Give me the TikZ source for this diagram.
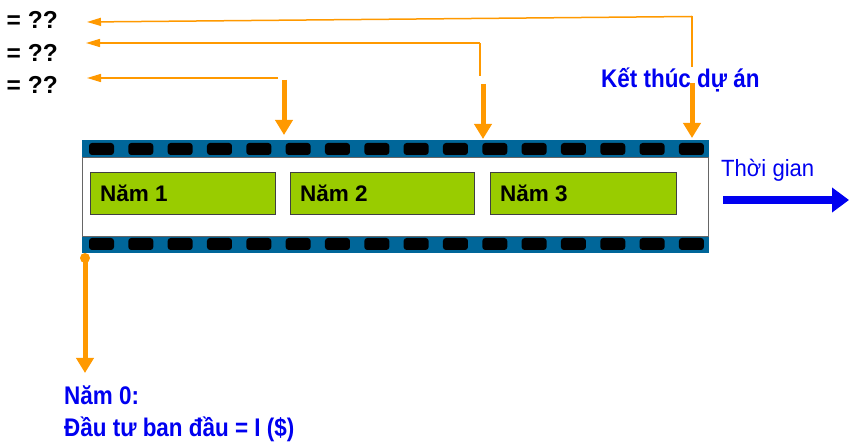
\documentclass[tikz,border=0pt]{standalone}
\usepackage{fontspec}
\setmainfont{Liberation Sans}
\newfontfamily\condfont[FakeStretch=0.88]{Liberation Sans}
\newfontfamily\timefont[FakeStretch=0.94]{Liberation Sans}
\usetikzlibrary{arrows.meta}
\definecolor{orng}{HTML}{FF9900}
\definecolor{stripblue}{HTML}{006699}
\definecolor{yeargreen}{HTML}{99CC00}
\definecolor{txtblue}{HTML}{0000F0}
\tikzset{
  lbl/.style={inner sep=0pt, anchor=base west, font=\fontsize{22.5}{27}\selectfont\bfseries},
  bluelbl/.style={inner sep=0pt, anchor=base west, text=txtblue, font=\condfont\fontsize{25.5}{30}\selectfont\bfseries},
  qlbl/.style={inner sep=0pt, anchor=base west, font=\fontsize{24.5}{28}\selectfont\bfseries},
  yearbox/.style={draw=black!75, line width=0.8pt, fill=yeargreen, inner sep=0pt, anchor=north west, minimum height=42pt},
  hole/.style={fill=black, rounded corners=3pt},
  thinarrow/.style={draw=orng, line width=1.5pt, -{Triangle[length=14pt,width=8pt]}},
  thinline/.style={draw=orng, line width=1.5pt},
  thickarrow/.style={draw=orng, line width=5pt, -{Triangle[length=15pt,width=17pt]}},
  timearrow/.style={draw=txtblue, line width=8pt, -{Triangle[length=17pt,width=24pt]}}
}
\begin{document}
\begin{tikzpicture}[x=1pt,y=-1pt]
\useasboundingbox (0,0) rectangle (849,443);
% film strip
\fill[stripblue] (82,140) rectangle (709,157);
\fill[stripblue] (82,236) rectangle (709,253);
\draw[draw=black!60, line width=0.8pt, fill=white] (82,157) rectangle (708,236);
\foreach \i in {0,...,15} {
  \fill[hole] ({89+39.33*\i},143) rectangle ({114+39.33*\i},155);
  \fill[hole] ({89+39.33*\i},238) rectangle ({114+39.33*\i},250);
}
% year boxes
\node[yearbox, minimum width=185pt] (y1) at (90,172) {};
\node[yearbox, minimum width=184pt] (y2) at (290,172) {};
\node[yearbox, minimum width=186pt] (y3) at (490,172) {};
\node[lbl] (t1) at (100,202) {Năm 1};
\node[lbl] (t2) at (300,202) {Năm 2};
\node[lbl] (t3) at (500,202) {Năm 3};
% question labels
\node[qlbl] (q1) at (6.5,29) {= ??};
\node[qlbl] (q2) at (6.5,62) {= ??};
\node[qlbl] (q3) at (6.5,94) {= ??};
% coordinates
\coordinate (r1top) at (692,16.5);
\coordinate (r1end) at (87,22);
\coordinate (r1low) at (692,67);
\coordinate (r1a) at (692,83);
\coordinate (r1b) at (692,138);
\coordinate (r2top) at (480,43);
\coordinate (r2end) at (86,43);
\coordinate (r2low) at (480,76);
\coordinate (r2a) at (483,84);
\coordinate (r2b) at (483,139);
\coordinate (r3start) at (278,78);
\coordinate (r3end) at (87,78);
\coordinate (r3a) at (284,80);
\coordinate (r3b) at (284,135);
\coordinate (z0) at (85,258);
\coordinate (z1) at (85,373);
\coordinate (ta) at (723,200);
\coordinate (tb) at (849,200);
% connectors
\draw[thinline] (r1low) -- (r1top);
\draw[thinarrow] (r1top) -- (r1end);
\draw[thinline] (r2low) -- (r2top);
\draw[thinarrow] (r2top) -- (r2end);
\draw[thinarrow] (r3start) -- (r3end);
\draw[thickarrow] (r1a) -- (r1b);
\draw[thickarrow] (r2a) -- (r2b);
\draw[thickarrow] (r3a) -- (r3b);
\fill[orng] (z0) circle (5pt);
\draw[thickarrow] (z0) -- (z1);
\draw[timearrow] (ta) -- (tb);
% blue labels
\node[bluelbl] (end) at (601,88) {Kết thúc dự án};
\node[inner sep=0pt, anchor=base west, text=txtblue, font=\timefont\fontsize{23.5}{28}\selectfont] (time) at (721,177) {Thời gian};
\node[bluelbl] (y0a) at (64,405) {Năm 0:};
\node[bluelbl] (y0b) at (64,437) {Đầu tư ban đầu = I (\$)};
\end{tikzpicture}
\end{document}
